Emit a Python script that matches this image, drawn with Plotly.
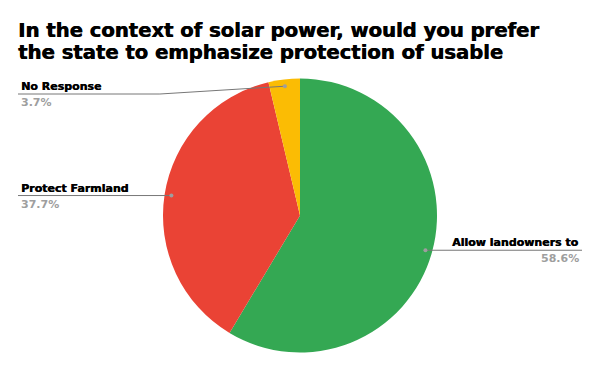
import math
import plotly.graph_objects as go

title_lines = ["In the context of solar power, would you prefer",
               "the state to emphasize protection of usable"]
labels = ["Allow landowners to", "Protect Farmland", "No Response"]
values = [58.6, 37.7, 3.7]
colors = ["#34A853", "#EA4335", "#FBBC04"]

W, H = 600, 371
CX, CY, R = 300, 215.5, 137
FONT = "DejaVu Sans"

def px(x):
    return x / W

def py(y):
    return 1 - y / H

fig = go.Figure()
fig.add_trace(go.Pie(
    labels=labels, values=values, sort=False, direction="clockwise", rotation=0,
    marker=dict(colors=colors, line=dict(width=0)),
    textinfo="none", hoverinfo="label+percent", showlegend=False,
    domain=dict(x=[px(CX - R), px(CX + R)], y=[py(CY + R), py(CY - R)]),
))

shapes = []
annotations = []
total = sum(values)
cum = 0
MIN_LINE_Y = 94
for lab, v in zip(labels, values):
    mid = (cum + v / 2) / total * 2 * math.pi
    cum += v
    dx = CX + 0.95 * R * math.sin(mid)
    dy = CY - 0.95 * R * math.cos(mid)
    pct = f"{v / total * 100:.1f}%"
    line_y = max(dy, MIN_LINE_Y)
    right = math.sin(mid) > 0
    lc = "#777777"
    if right:
        x_end = 582
        shapes.append(dict(type="line", xref="paper", yref="paper",
                           x0=px(dx), y0=py(line_y), x1=px(x_end), y1=py(line_y),
                           line=dict(color=lc, width=1), layer="above"))
        xa, anchor = px(581), "right"
    else:
        x_end = 18
        elbow = dx - 125 if line_y != dy else dx
        if line_y != dy:
            shapes.append(dict(type="line", xref="paper", yref="paper",
                               x0=px(dx), y0=py(dy), x1=px(elbow), y1=py(line_y),
                               line=dict(color=lc, width=1), layer="above"))
        shapes.append(dict(type="line", xref="paper", yref="paper",
                           x0=px(elbow), y0=py(line_y), x1=px(x_end), y1=py(line_y),
                           line=dict(color=lc, width=1), layer="above"))
        xa, anchor = px(19), "left"
    shapes.append(dict(type="circle", xref="paper", yref="paper",
                       x0=px(dx - 2), x1=px(dx + 2), y0=py(dy - 2), y1=py(dy + 2),
                       fillcolor="#9e9e9e", line=dict(width=0), layer="above"))
    annotations.append(dict(x=xa, y=py(line_y), xref="paper", yref="paper",
                            text=lab, showarrow=False, xanchor=anchor, yanchor="bottom",
                            yshift=-1,
                            font=dict(family=FONT, size=11, color="#000000", weight="bold",
                                      shadow="0.4px 0 0 #000")))
    annotations.append(dict(x=xa, y=py(line_y), xref="paper", yref="paper",
                            text=pct, showarrow=False, xanchor=anchor, yanchor="top",
                            yshift=0,
                            font=dict(family=FONT, size=11, color="#9e9e9e", weight="bold")))

for i, t in enumerate(title_lines):
    annotations.append(dict(x=px(16), y=py(17 + 22 * i), xref="paper", yref="paper",
                            text=t, showarrow=False,
                            xanchor="left", yanchor="top", align="left",
                            font=dict(family=FONT, size=19.6, color="#000000", weight="bold",
                                      shadow="0.6px 0 0 #000")))

fig.update_layout(
    width=W, height=H, margin=dict(l=0, r=0, t=0, b=0),
    paper_bgcolor="white", plot_bgcolor="white",
    shapes=shapes, annotations=annotations,
)
fig.write_html("out.html")
